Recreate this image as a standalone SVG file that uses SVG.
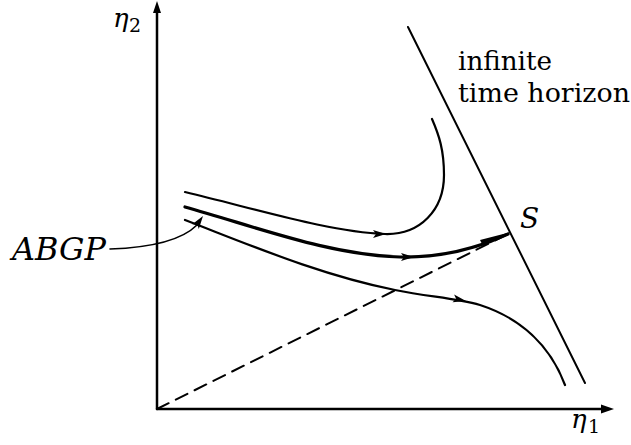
<svg xmlns="http://www.w3.org/2000/svg" width="631" height="445" viewBox="0 0 631 445">
<style>
.ln{fill:none;stroke:#000;stroke-linecap:round;stroke-linejoin:round}
.tx{font-family:"DejaVu Serif","Liberation Serif",serif;fill:#000}
.it{font-style:italic}
</style>
<defs>
<path id="ah" d="M0,0 L-13,-4 L-10,0 L-13,4 Z" fill="#000"/>
</defs>
<rect width="631" height="445" fill="#fff"/>
<g id="axes">
<path class="ln" d="M157,409 L157,8" stroke-width="2.5"/>
<path class="ln" d="M157,409 L605,409" stroke-width="2.5"/>
<path d="M157,1 L153,13 L161,13 Z" fill="#000"/>
<path d="M614,409 L601,404.5 L601,413.5 Z" fill="#000"/>
<text class="tx it" x="113" y="27" font-size="26">η</text>
<text class="tx" x="129" y="32" font-size="19">2</text>
<text class="tx it" x="571" y="428" font-size="26">η</text>
<text class="tx" x="588" y="433" font-size="19">1</text>
</g>
<g id="horizon">
<path class="ln" d="M408,27 L585,383" stroke-width="2"/>
<text class="tx" x="458" y="70" font-size="26" textLength="94" lengthAdjust="spacingAndGlyphs">infinite</text>
<text class="tx" x="458" y="102" font-size="26" textLength="172" lengthAdjust="spacingAndGlyphs">time horizon</text>
</g>
<g id="S">
<text class="tx it" x="520" y="228" font-size="28">S</text>
</g>
<g id="connectors">
<path class="ln" d="M157,409 L510,233" stroke-width="2" stroke-dasharray="13,8"/>
<path class="ln" d="M185,192 C260,210 330,232 385,234 C420,235 444,210 444,175 C444,150 439,135 432,119" stroke-width="2.2"/>
<use href="#ah" transform="translate(386,234)"/>
<path class="ln" d="M185,207 C260,228 330,255 400,257 C445,258 480,247 508,234" stroke-width="3.2"/>
<path d="M511,232 L480,240 L483,246 Z" fill="#000"/>
<use href="#ah" transform="translate(414,257)"/>
<path class="ln" d="M185,220 C250,245 320,275 395,290 C430,297 455,298 480,305 C520,318 550,345 565,385" stroke-width="2.2"/>
<use href="#ah" transform="translate(466,301) rotate(12)"/>
<path class="ln" d="M110,249 C140,248 178,244 197,225" stroke-width="1.6"/>
<use href="#ah" transform="translate(203,216) rotate(-55)"/>
</g>
<g id="ABGP">
<text class="tx it" x="12" y="260" font-size="31" textLength="94" lengthAdjust="spacingAndGlyphs">ABGP</text>
</g>
</svg>
